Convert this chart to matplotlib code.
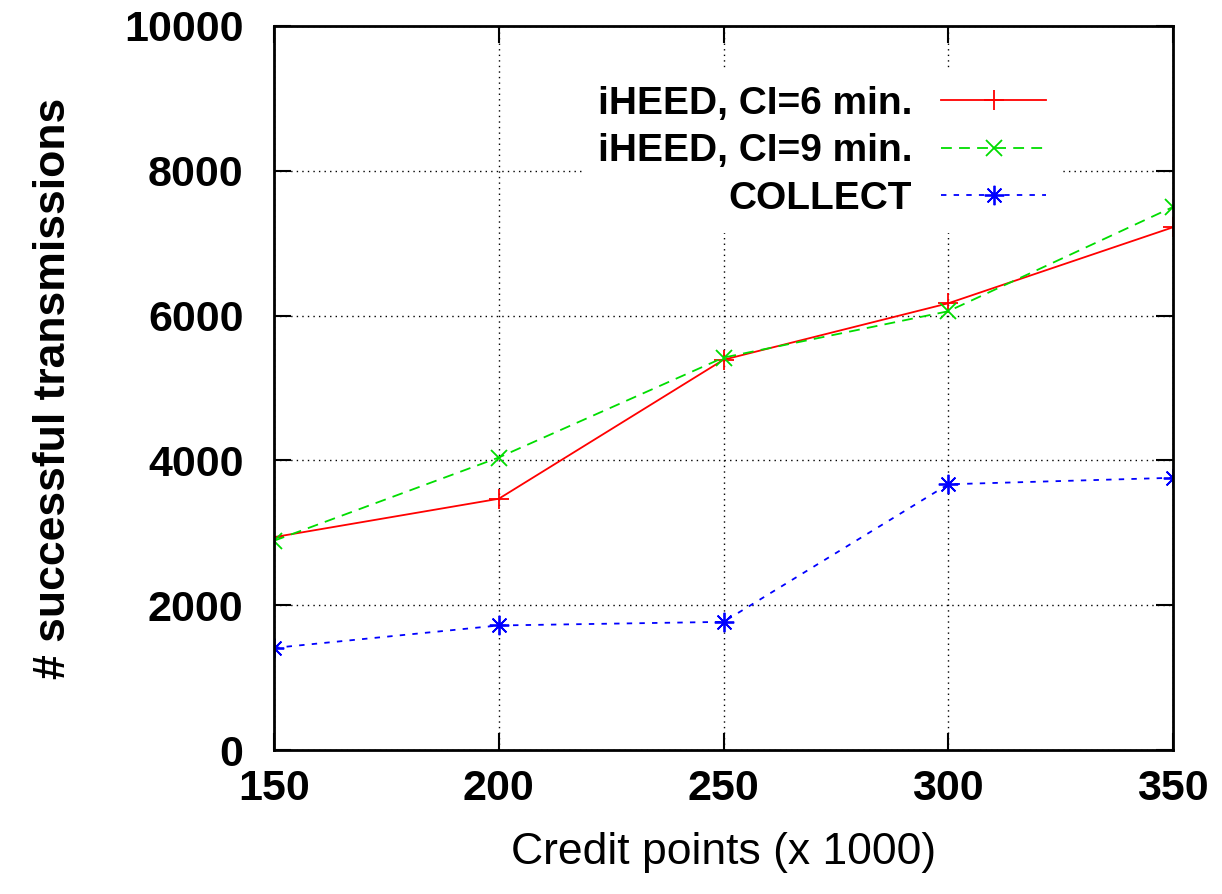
import matplotlib.pyplot as plt

plt.rcParams['font.family'] = ['Liberation Sans', 'DejaVu Sans']

# credit points (x 1000) and successful transmissions per protocol
credit = [150, 200, 250, 300, 350]
iheed_ci6 = [2940, 3470, 5390, 6170, 7220]
iheed_ci9 = [2890, 4040, 5420, 6060, 7500]
collect = [1410, 1720, 1770, 3670, 3760]

fig = plt.figure(figsize=(12.22, 8.94), dpi=100)
ax = fig.add_axes([274 / 1222, 144 / 894, 899 / 1222, 724 / 894])

ax.plot(credit, iheed_ci6, color='#ff0000', lw=1.3, ls='-',
        marker='+', ms=14, mew=1.3, label='iHEED, CI=6 min.')
ax.plot(credit, iheed_ci9, color='#00dd00', lw=1.3, ls=(0, (6, 4)),
        marker='x', ms=12, mew=1.3, label='iHEED, CI=9 min.')
ax.plot(credit, collect, color='#0000ff', lw=1.3, ls=(0, (3, 4)),
        marker=(8, 2, 0), ms=14, mew=1.3, label='COLLECT')

ax.set_xlim(150, 350)
ax.set_ylim(0, 10000)
ax.set_xticks(credit)
ax.set_yticks(range(0, 10001, 2000))
ax.grid(True, color='black', ls=(0, (1, 3)), lw=1.0)
ax.tick_params(direction='in', length=12, width=1.5, labelsize=31,
               top=True, right=True, pad=14)
ax.tick_params(axis='y', pad=22)
for lbl in ax.get_xticklabels() + ax.get_yticklabels():
    lbl.set_fontweight('bold')
for s in ax.spines.values():
    s.set_linewidth(2.0)

ax.set_xlabel('Credit points (x 1000)', fontsize=32, labelpad=16)
ax.set_ylabel('# successful transmissions', fontsize=32,
              fontweight='bold', labelpad=36)

leg = ax.legend(loc='upper right', bbox_to_anchor=(0.898, 0.966),
                markerfirst=False, prop={'size': 28, 'weight': 'bold'},
                handlelength=2.7, handletextpad=0.75, labelspacing=0.3,
                borderpad=0.4, frameon=True, framealpha=1, fancybox=False)
leg.get_frame().set_linewidth(0)

fig.savefig('out.png', dpi=100)
